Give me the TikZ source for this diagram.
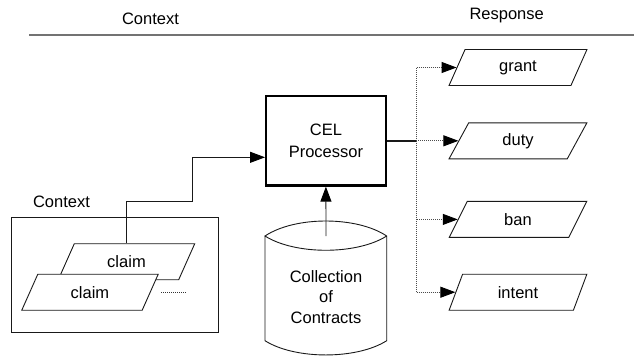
\documentclass[tikz,border=0pt]{standalone}
\usepackage{fontspec}
\setmainfont{Liberation Sans}
\usetikzlibrary{shapes.geometric,arrows.meta}
\begin{document}
\begin{tikzpicture}[x=1pt,y=-1pt,
  every node/.style={font=\fontsize{16.5}{20.5}\selectfont, text=black},
  ln/.style={draw=black!90, line width=0.9pt},
  arr/.style={-{Triangle[length=15pt,width=11pt,color=black]}},
  dots/.style={draw=black!70, line width=0.9pt, dash pattern=on 1pt off 1pt},
  para/.style={trapezium, trapezium stretches=true, draw=black!90, line width=0.9pt,
    fill=white, inner sep=0pt, minimum height=36pt},
  resp/.style={para, trapezium left angle=68, trapezium right angle=112, minimum width=138pt},
  claimp/.style={para, trapezium left angle=64, trapezium right angle=116, minimum width=137pt},
  procbox/.style={draw=black, line width=2.2pt, minimum width=119.5pt, minimum height=89.5pt,
    align=center, font=\fontsize{16.5}{21.5}\selectfont}]
\useasboundingbox (0,0) rectangle (634,357);

% header
\node (ctxhead) at (150.5,19) {Context};
\node (resphead) at (506.7,15.7) {Response};
\draw[draw=black!55, line width=1.6pt] (29,35) -- (634,35);

% context with its claims
\node[ln, minimum width=206.3pt, minimum height=115pt] (ctx) at (114.9,275.2) {};
\node (ctxlbl) at (61.5,201.7) {Context};
\node[claimp] (bclaim) at (126.5,261.7) {claim};
\node[claimp] (fclaim) at (90,292.2) {claim};
\coordinate (more1) at (161,292.7);
\coordinate (more2) at (186.7,292.7);
\draw[dots, draw=black!80] (more1) -- (more2);

% processor
\node[procbox] (proc) at (325.9,140.8) {CEL\\Processor};
\coordinate (bend) at (192.7,201);
\draw[ln,arr] (bclaim.north) |- (bend) |- ([yshift=-16.5pt]proc.west);

% contract store
\draw[ln] (265,236) -- (265,340.7)
  .. controls (295,359.7) and (356.7,359.7) .. (386.7,340.7)
  -- (386.7,236)
  .. controls (356.7,216) and (295,216) .. (265,236)
  .. controls (295,255) and (356.7,255) .. (386.7,236);
\node[align=center, font=\fontsize{16.5}{20.3}\selectfont] (coll) at (326,297) {Collection\\of\\Contracts};
\coordinate (colltop) at (326,236);
\draw[ln,arr] (colltop) -- (proc.south);

% responses
\node[resp] (grant) at (518,67.5) {grant};
\node[resp] (duty) at (518,140.8) {duty};
\node[resp] (ban) at (518,219.4) {ban};
\node[resp] (intent) at (518,292.2) {intent};
\coordinate (hub) at (416,140.8);
\draw[draw=black!90, line width=1.4pt] (proc.east) -- (hub);
\draw[dots,arr] (hub) |- (grant.left side);
\draw[dots,arr] (hub) -- (duty.left side);
\draw[dots,arr] (hub) |- (ban.left side);
\draw[dots,arr] (hub) |- (intent.left side);
\end{tikzpicture}
\end{document}
